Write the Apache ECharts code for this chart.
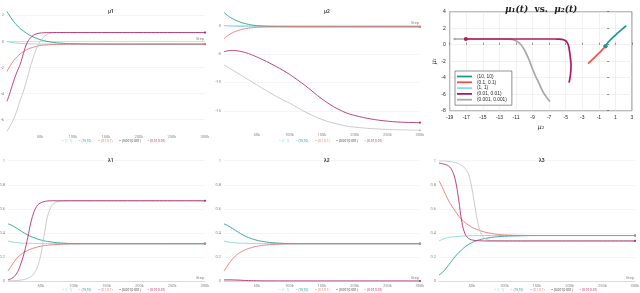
<!DOCTYPE html>
<html><head><meta charset="utf-8">
<script src="https://cdn.jsdelivr.net/npm/echarts@6/dist/echarts.min.js"></script>
<style>html,body{margin:0;padding:0;background:#fff}#c{width:640px;height:293px}</style>
</head><body><div id="c"></div><script>
// training steps
const steps = [0,5000,10000,15000,20000,25000,30000,35000,40000,45000,50000,55000,60000,65000,70000,80000,90000,100000,125000,150000,175000,200000,250000,300000];
const xTickValues = [50000,100000,150000,200000,250000,300000];
const xTickLabels = ['50k','100k','150k','200k','250k','300k'];

// series order: (1,1), (10,10), (0.1,0.1), (0.001,0.001), (0.01,0.01)
const tbNames = ['(1, 1)','(10,10)','(0.1,0.1)','(0.001,0.001)','(0.01,0.01)'];

// mu1
const mu1_c = [0,-0.05,-0.09,-0.12,-0.14,-0.155,-0.165,-0.175,-0.18,-0.185,-0.19,-0.19,-0.195,-0.195,-0.2,-0.2,-0.2,-0.2,-0.2,-0.2,-0.2,-0.2,-0.2,-0.2];
const mu1_t = [2.3,1.9,1.55,1.25,1.0,0.8,0.62,0.47,0.35,0.24,0.15,0.08,0.02,-0.03,-0.07,-0.12,-0.15,-0.17,-0.19,-0.2,-0.2,-0.2,-0.2,-0.2];
const mu1_r = [-2.3,-1.85,-1.48,-1.18,-0.95,-0.77,-0.62,-0.51,-0.43,-0.36,-0.31,-0.28,-0.26,-0.24,-0.23,-0.215,-0.205,-0.2,-0.2,-0.2,-0.2,-0.2,-0.2,-0.2];
const mu1_g = [-6.9,-6.45,-5.95,-5.3,-4.5,-3.8,-2.95,-2.0,-1.2,-0.5,0.0,0.32,0.52,0.63,0.67,0.69,0.69,0.69,0.69,0.69,0.69,0.69,0.69,0.69];
const mu1_m = [-4.6,-3.85,-3.05,-2.35,-1.75,-0.9,-0.15,0.25,0.48,0.6,0.65,0.675,0.685,0.69,0.69,0.69,0.69,0.69,0.69,0.69,0.69,0.69,0.69,0.69];

// mu2
const mu2_c = [0,-0.05,-0.09,-0.12,-0.14,-0.155,-0.165,-0.175,-0.18,-0.185,-0.19,-0.19,-0.195,-0.195,-0.2,-0.2,-0.2,-0.2,-0.2,-0.2,-0.2,-0.2,-0.2,-0.2];
const mu2_t = [2.3,1.82,1.42,1.1,0.83,0.6,0.42,0.28,0.16,0.07,0.0,-0.05,-0.09,-0.12,-0.14,-0.17,-0.18,-0.19,-0.2,-0.2,-0.2,-0.2,-0.2,-0.2];
const mu2_r = [-2.3,-1.82,-1.45,-1.15,-0.92,-0.74,-0.6,-0.49,-0.41,-0.35,-0.3,-0.27,-0.25,-0.235,-0.225,-0.21,-0.205,-0.2,-0.2,-0.2,-0.2,-0.2,-0.2,-0.2];
const mu2_g = [-6.9,-7.25,-7.6,-7.95,-8.3,-8.65,-9.0,-9.35,-9.7,-10.05,-10.4,-10.75,-11.1,-11.45,-11.8,-12.45,-13.05,-13.6,-15.2,-16.5,-17.35,-17.85,-18.25,-18.4];
const mu2_m = [-4.6,-4.45,-4.38,-4.36,-4.42,-4.52,-4.65,-4.82,-5.02,-5.25,-5.5,-5.76,-6.03,-6.3,-6.6,-7.2,-7.85,-8.55,-10.6,-12.9,-14.7,-15.8,-16.8,-17.05];

// lambda1
const l1_c = [0.333,0.326,0.321,0.318,0.316,0.315,0.314,0.313,0.312,0.312,0.311,0.311,0.311,0.31,0.31,0.31,0.31,0.31,0.31,0.31,0.31,0.31,0.31,0.31];
const l1_t = [0.475,0.465,0.45,0.433,0.415,0.398,0.383,0.37,0.359,0.349,0.341,0.334,0.329,0.325,0.321,0.316,0.313,0.311,0.31,0.31,0.31,0.31,0.31,0.31];
const l1_r = [0.083,0.125,0.165,0.198,0.222,0.24,0.255,0.266,0.275,0.283,0.289,0.294,0.297,0.3,0.302,0.305,0.307,0.308,0.31,0.31,0.31,0.31,0.31,0.31];
const l1_g = [0.001,0.002,0.003,0.005,0.008,0.013,0.022,0.037,0.064,0.12,0.22,0.38,0.53,0.61,0.645,0.664,0.667,0.667,0.667,0.667,0.667,0.667,0.667,0.667];
const l1_m = [0.01,0.02,0.04,0.08,0.15,0.24,0.36,0.49,0.58,0.63,0.65,0.66,0.665,0.667,0.667,0.667,0.667,0.667,0.667,0.667,0.667,0.667,0.667,0.667];

// lambda2
const l2_c = [0.333,0.326,0.321,0.318,0.316,0.315,0.314,0.313,0.312,0.312,0.311,0.311,0.311,0.31,0.31,0.31,0.31,0.31,0.31,0.31,0.31,0.31,0.31,0.31];
const l2_t = [0.475,0.463,0.447,0.43,0.412,0.395,0.38,0.367,0.356,0.347,0.339,0.333,0.328,0.324,0.32,0.316,0.313,0.311,0.31,0.31,0.31,0.31,0.31,0.31];
const l2_r = [0.083,0.124,0.163,0.195,0.22,0.238,0.253,0.265,0.274,0.282,0.288,0.293,0.297,0.3,0.302,0.305,0.307,0.308,0.31,0.31,0.31,0.31,0.31,0.31];
const l2_g = [0.001,0.001,0.001,0.0009,0.0008,0.0006,0.0005,0.0003,0.0002,0.0001,0.0001,0,0,0,0,0,0,0,0,0,0,0,0,0];
const l2_m = [0.01,0.01,0.01,0.009,0.008,0.007,0.005,0.004,0.003,0.002,0.0015,0.001,0.0007,0.0005,0.0003,0.0002,0.0001,0,0,0,0,0,0,0];

// lambda3
const l3_c = [0.333,0.346,0.356,0.362,0.366,0.369,0.371,0.373,0.374,0.375,0.376,0.377,0.377,0.378,0.378,0.378,0.378,0.378,0.378,0.378,0.378,0.378,0.378,0.378];
const l3_t = [0.05,0.07,0.1,0.135,0.17,0.205,0.235,0.26,0.285,0.303,0.318,0.33,0.34,0.347,0.353,0.362,0.368,0.372,0.376,0.378,0.378,0.378,0.378,0.378];
const l3_r = [0.833,0.78,0.72,0.665,0.62,0.58,0.54,0.51,0.485,0.465,0.448,0.435,0.424,0.415,0.407,0.396,0.388,0.383,0.379,0.378,0.378,0.378,0.378,0.378];
const l3_g = [0.998,0.998,0.997,0.995,0.99,0.985,0.975,0.96,0.935,0.89,0.78,0.62,0.47,0.39,0.355,0.336,0.334,0.333,0.333,0.333,0.333,0.333,0.333,0.333];
const l3_m = [0.98,0.975,0.968,0.955,0.92,0.84,0.68,0.49,0.39,0.355,0.342,0.337,0.335,0.334,0.333,0.333,0.333,0.333,0.333,0.333,0.333,0.333,0.333,0.333];

// y tick labels
const mu1Ticks = [2,0,-2,-4,-6];
const mu2Ticks = [0,-5,-10,-15];

// phase plot legend names (order as in its legend)
const phaseNames = ['(10, 10)','(0.1, 0.1)','(1, 1)','(0.01, 0.01)','(0.001, 0.001)'];

// ---------- styling ----------
const tbColors = ['#86d5e3','#26a092','#ee7676','#c4c4c4','#b4306f'];
const tbTextColors = ['#86d5e3','#26a092','#ee7676','#444444','#b4306f'];
const phaseColors = ['#1b9c87','#f0504a','#8fd9ea','#ae1a5e','#a8a8a8'];

const tbPanels = [
  {title:'μ1', arrays:[mu1_c,mu1_t,mu1_r,mu1_g,mu1_m], yMin:-6.92, yMax:2.32, ticks:mu1Ticks,
   grid:{left:7, top:11.3, width:198, height:120.4}, titlePos:[103,4], legendPos:[57,139.5]},
  {title:'μ2', arrays:[mu2_c,mu2_t,mu2_r,mu2_g,mu2_m], yMin:-18.42, yMax:2.32, ticks:mu2Ticks,
   grid:{left:224, top:12.4, width:196, height:118}, titlePos:[319,4], legendPos:[274,139.5]},
  {title:'λ1', arrays:[l1_c,l1_t,l1_r,l1_g,l1_m], yMin:0, yMax:1, interval:0.2,
   grid:{left:8, top:160.7, width:197, height:120.3}, titlePos:[103,153], legendPos:[57,289]},
  {title:'λ2', arrays:[l2_c,l2_t,l2_r,l2_g,l2_m], yMin:0, yMax:1, interval:0.2,
   grid:{left:224, top:160.7, width:196, height:120.3}, titlePos:[319,153], legendPos:[274,289]},
  {title:'λ3', arrays:[l3_c,l3_t,l3_r,l3_g,l3_m], yMin:0, yMax:1, interval:0.2,
   grid:{left:439, top:160.7, width:196, height:120.3}, titlePos:[534,153], legendPos:[489,289]}
];

const grids = [], xAxes = [], yAxes = [], titles = [], legends = [], series = [];
const axisFont = 'Roboto, "Noto Sans", sans-serif';

tbPanels.forEach((p) => {
  const gi = grids.length;
  grids.push(Object.assign({outerBoundsMode:'none', containLabel:false}, p.grid));
  xAxes.push({
    gridIndex: gi, type:'value', min:0, max:300000, interval:50000,
    axisLine:{show:true, lineStyle:{color:'#d0d0d0', width:0.7}},
    axisTick:{show:false}, splitLine:{show:false},
    axisLabel:{fontSize:4, color:'#888', margin:3, fontFamily:axisFont, showMinLabel:false,
      formatter: v => { const k = xTickValues.indexOf(v); return k >= 0 ? xTickLabels[k] : ''; }},
    name:'Step', nameLocation:'end', nameGap:-1,
    nameTextStyle:{fontSize:4, color:'#888', fontFamily:axisFont, align:'right', verticalAlign:'bottom', padding:[0,0,1,0]}
  });
  const y = {
    gridIndex: gi, type:'value', min:p.yMin, max:p.yMax,
    axisLine:{show:false}, axisTick:{show:false},
    axisLabel:{fontSize:4, color:'#888', margin:3, fontFamily:axisFont},
    splitLine:{show:true, lineStyle:{color:'#efefef', width:0.6}}
  };
  if (p.ticks) {
    y.axisTick.customValues = p.ticks;
    y.axisLabel.customValues = p.ticks;
  } else {
    y.interval = p.interval;
  }
  yAxes.push(y);
  titles.push({text:p.title, left:p.titlePos[0], top:p.titlePos[1],
    textStyle:{fontSize:5, fontWeight:'bold', color:'#444', fontFamily:axisFont}});
  legends.push({
    left:p.legendPos[0], top:p.legendPos[1], orient:'horizontal', padding:0,
    itemWidth:0, itemHeight:0, itemGap:1.5, icon:'rect', selectedMode:false,
    formatter: n => '– ' + n,
    textStyle:{fontSize:3.2, fontFamily:axisFont},
    data: tbNames.map((n,k) => ({name:n, textStyle:{color:tbTextColors[k]}}))
  });
  p.arrays.forEach((arr, k) => {
    series.push({
      type:'line', name:tbNames[k], xAxisIndex:gi, yAxisIndex:gi,
      data: arr.map((v,i) => i === arr.length-1 ? {value:[steps[i], v], symbol:'circle', symbolSize:2.2} : [steps[i], v]),
      symbol:'none', showSymbol:true, smooth:0.4,
      lineStyle:{width:0.9, color:tbColors[k]}, itemStyle:{color:tbColors[k]},
      emphasis:{disabled:true}, silent:true, z:2+k
    });
  });
});

// ---------- phase plot mu1 vs mu2 ----------
const pg = grids.length;
grids.push({left:449.7, top:11.7, width:182.3, height:99, show:true, borderColor:'#262626', borderWidth:0.6,
  backgroundColor:'#fff', outerBoundsMode:'none', containLabel:false});
const mFont = '"Liberation Sans", Arial, sans-serif';
xAxes.push({gridIndex:pg, type:'value', min:-19, max:3, interval:2,
  axisLine:{show:false}, axisTick:{show:true, inside:true, length:2, lineStyle:{color:'#262626', width:0.5}},
  axisLabel:{fontSize:5, color:'#262626', margin:4, fontFamily:mFont},
  splitLine:{show:true, lineStyle:{color:'#e2e2e2', width:0.5}},
  name:'μ₂', nameLocation:'middle', nameGap:13,
  nameTextStyle:{fontFamily:'"DejaVu Serif", serif', fontStyle:'italic', fontSize:6.5, color:'#262626'}});
yAxes.push({gridIndex:pg, type:'value', min:-8, max:4, interval:2,
  axisLine:{show:false}, axisTick:{show:true, inside:true, length:2, lineStyle:{color:'#262626', width:0.5}},
  axisLabel:{fontSize:5, color:'#262626', margin:4, fontFamily:mFont},
  splitLine:{show:true, lineStyle:{color:'#e2e2e2', width:0.5}},
  name:'μ₁', nameLocation:'middle', nameGap:10, nameRotate:90,
  nameTextStyle:{fontFamily:'"DejaVu Serif", serif', fontStyle:'italic', fontSize:6.5, color:'#262626'}});
titles.push({text:'{i|μ₁(t)}{n|  vs.  }{i|μ₂(t)}', left:500, top:0,
  textStyle:{rich:{
    i:{fontFamily:'"DejaVu Serif", serif', fontStyle:'italic', fontSize:9, color:'#222'},
    n:{fontFamily:'"DejaVu Serif", serif', fontSize:9, color:'#222'}}}});
legends.push({left:455, top:71, orient:'vertical', selectedMode:false,
  icon:'rect', itemWidth:15, itemHeight:1.8, itemGap:0.8, padding:[3,5,3,2],
  backgroundColor:'#fff', borderColor:'#262626', borderWidth:0.5,
  textStyle:{fontSize:4.8, color:'#262626', fontFamily:mFont},
  data: phaseNames.map((n,k) => ({name:n, itemStyle:{color:phaseColors[k]}}))});

const phaseMu1 = [mu1_t, mu1_r, mu1_c, mu1_m, mu1_g];
const phaseMu2 = [mu2_t, mu2_r, mu2_c, mu2_m, mu2_g];
// draw order: gray, magenta, cyan, red, teal
[4,3,2,1,0].forEach((k, order) => {
  const a1 = phaseMu1[k], a2 = phaseMu2[k];
  const last = a1.length - 1;
  series.push({
    type:'line', name:phaseNames[k], xAxisIndex:pg, yAxisIndex:pg,
    data: a1.map((v,i) => i === last ? {value:[a2[i], v], symbol:'circle', symbolSize:(k===4?2.5:4)} : [a2[i], v]),
    symbol:'none', showSymbol:true, smooth:0.3,
    lineStyle:{width:1.7, color:phaseColors[k]}, itemStyle:{color:phaseColors[k]},
    emphasis:{disabled:true}, silent:true, z:3+order
  });
});

const chart = echarts.init(document.getElementById('c'), null, {renderer:'canvas', width:640, height:293});
chart.setOption({
  animation:false, backgroundColor:'#fff',
  title:titles, legend:legends, grid:grids, xAxis:xAxes, yAxis:yAxes, series:series
});
</script></body></html>
